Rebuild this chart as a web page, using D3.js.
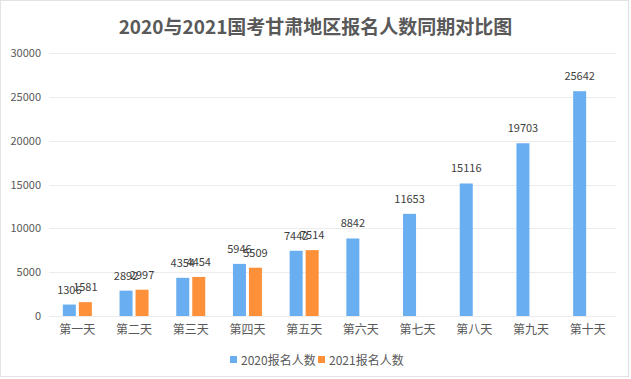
<!DOCTYPE html>
<html>
<head>
<meta charset="utf-8">
<script src="https://cdn.jsdelivr.net/npm/d3@7"></script>
<style>
  html, body { margin: 0; padding: 0; background: #fff; }
  svg { display: block; font-family: "Noto Sans CJK SC", "Noto Sans", sans-serif; }
</style>
</head>
<body>
<svg id="chart" width="631" height="379"></svg>
<script>
const title = "2020与2021国考甘肃地区报名人数同期对比图";
const categories = ["第一天","第二天","第三天","第四天","第五天","第六天","第七天","第八天","第九天","第十天"];
const seriesNames = ["2020报名人数","2021报名人数"];
const values2020 = [1306, 2892, 4354, 5946, 7442, 8842, 11653, 15116, 19703, 25642];
const values2021 = [1581, 2997, 4454, 5509, 7514, null, null, null, null, null];
const yTicks = [0, 5000, 10000, 15000, 20000, 25000, 30000];
const colors = ["#68aef0", "#fe903a"];

const svg = d3.select("#chart");
const W = 631, H = 379;

// border
svg.append("rect").attr("x", 0.5).attr("y", 0.5).attr("width", 628).attr("height", 376)
  .attr("fill", "#fff").attr("stroke", "#e3e3e3");

const x0 = d3.scaleBand().domain(categories).range([49, 616]).padding(0);
const x1 = d3.scaleBand().domain(seriesNames).range([-14.5, 14.5]).paddingInner(0.1875).paddingOuter(0);
const y = d3.scaleLinear().domain([0, 30000]).range([316, 53]);

// gridlines
svg.append("g").selectAll("line").data(yTicks).join("line")
  .attr("x1", 49).attr("x2", 616)
  .attr("y1", d => Math.round(y(d)) + 0.5).attr("y2", d => Math.round(y(d)) + 0.5)
  .attr("stroke", "#ececec").attr("stroke-width", 1);

// y axis labels
const yAxis = d3.axisLeft(y).tickValues(yTicks).tickSize(0).tickPadding(0).tickFormat(d3.format("d"));
const gy = svg.append("g").attr("transform", "translate(41,0)").call(yAxis);
gy.select(".domain").remove();
gy.selectAll("text").attr("fill", "#595959").style("font-size", "11px")
  .style("font-family", "'Noto Sans CJK SC', sans-serif");

// x axis labels
const xAxis = d3.axisBottom(x0).tickSize(0).tickPadding(0);
const gx = svg.append("g").attr("transform", "translate(0,325)").call(xAxis);
gx.select(".domain").remove();
gx.selectAll("text").attr("fill", "#595959").style("font-size", "12px")
  .style("font-family", "'Noto Sans CJK SC', sans-serif");

// bars
const rows = categories.map((c, i) => ({
  cat: c,
  vals: [
    { s: seriesNames[0], v: values2020[i], k: 0 },
    { s: seriesNames[1], v: values2021[i], k: 1 }
  ].filter(d => d.v != null)
}));

const groups = svg.append("g").selectAll("g").data(rows).join("g")
  .attr("transform", d => `translate(${x0(d.cat) + x0.bandwidth() / 2},0)`);

groups.selectAll("rect").data(d => d.vals).join("rect")
  .attr("x", d => x1(d.s))
  .attr("width", x1.bandwidth())
  .attr("y", d => y(d.v))
  .attr("height", d => y(0) - y(d.v))
  .attr("fill", d => colors[d.k]);

groups.selectAll("text").data(d => d.vals).join("text")
  .attr("x", d => x1(d.s) + x1.bandwidth() / 2)
  .attr("y", d => y(d.v) - 11)
  .attr("text-anchor", "middle")
  .attr("fill", "#404040")
  .style("font-size", "11px")
  .text(d => d.v);

// title
svg.append("text").attr("x", 315.5).attr("y", 34).attr("text-anchor", "middle")
  .attr("fill", "#595959").style("font-size", "19px").style("font-weight", "bold")
  .text(title);

// legend
const legendX = [230, 318];
const lg = svg.append("g").selectAll("g").data(seriesNames).join("g")
  .attr("transform", (d, i) => `translate(${legendX[i]},0)`);
lg.append("rect").attr("x", 0).attr("y", 356).attr("width", 7).attr("height", 7)
  .attr("fill", (d, i) => colors[i]);
lg.append("text").attr("x", 11).attr("y", 364.5).attr("fill", "#595959")
  .style("font-size", "12px").text(d => d);
</script>
</body>
</html>
